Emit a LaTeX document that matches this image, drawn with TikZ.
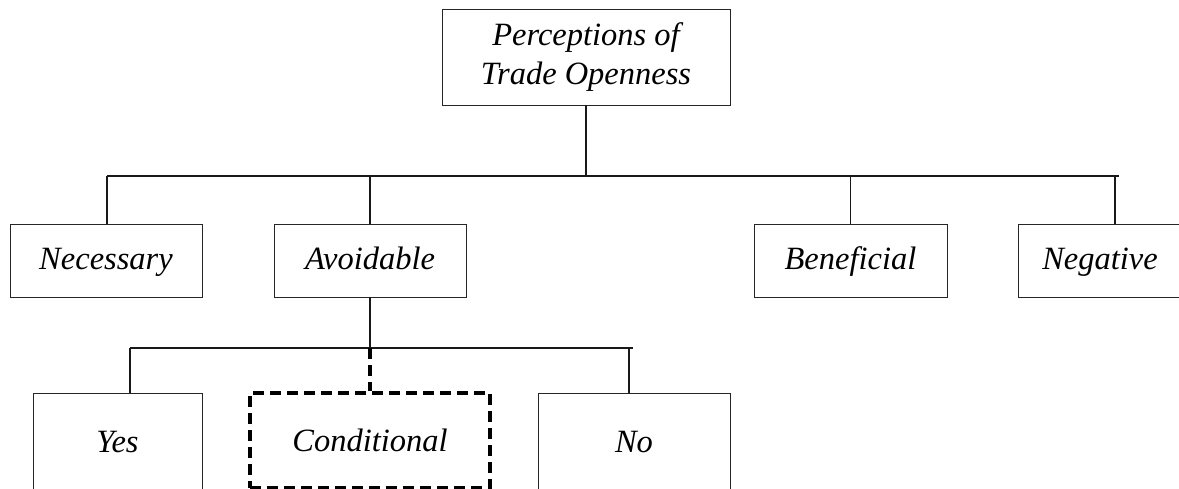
\documentclass[tikz,border=0pt]{standalone}
\usepackage{fontspec}
\setmainfont{Liberation Serif}
\begin{document}
\begin{tikzpicture}[x=1pt,y=1pt,
  topbox/.style={draw=black!85, line width=0.9pt, inner sep=0pt, align=center,
    font=\fontsize{32.5}{39}\selectfont\itshape},
  box/.style={topbox, text height=24pt, text depth=5pt},
  lowbox/.style={topbox, text height=25pt, text depth=3pt},
  dbox/.style={lowbox, draw=black, line width=3.6pt, dash pattern=on 11pt off 6pt},
  link/.style={draw=black!90, line width=1.1pt},
  dlink/.style={draw=black, line width=3.6pt, dash pattern=on 11pt off 6pt}]
\useasboundingbox (0,0) rectangle (1179,-489);
% nodes
\node[topbox, minimum width=288pt, minimum height=96pt] (top) at (586,-57) {Perceptions of\\Trade Openness};
\node[box, minimum width=192pt, minimum height=73pt] (nec) at (106,-260.5) {Necessary};
\node[box, minimum width=192pt, minimum height=73pt] (avo) at (370,-260.5) {Avoidable};
\node[box, minimum width=193pt, minimum height=73pt] (ben) at (850.5,-260.5) {Beneficial};
\node[box, minimum width=164pt, minimum height=73pt] (neg) at (1100,-260.5) {Negative};
\node[lowbox, minimum width=169pt, minimum height=96pt] (yes) at (117.5,-441) {Yes};
\node[dbox, minimum width=240pt, minimum height=95pt] (con) at (370,-440.5) {Conditional};
\node[lowbox, minimum width=192pt, minimum height=96pt] (no) at (634,-441) {No};
% bus coordinates
\coordinate (b1l) at (107,-176);
\coordinate (b1r) at (1119,-176);
\coordinate (b2l) at (130,-348);
\coordinate (b2r) at (633,-348);
\coordinate (sneg) at (1115,-176);
\coordinate (sno) at (629,-348);
% connectors level 1
\draw[link] (top.south) -- (top.south |- b1l);
\draw[link] (b1l) -- (b1r);
\draw[link] (b1l) -- (b1l |- nec.north);
\draw[link] (avo.north |- b1l) -- (avo.north);
\draw[link] (ben.north |- b1l) -- (ben.north);
\draw[link] (sneg) -- (sneg |- neg.north);
% connectors level 2
\draw[link] (avo.south) -- (avo.south |- b2l);
\draw[link] (b2l) -- (b2r);
\draw[link] (b2l) -- (b2l |- yes.north);
\draw[dlink] (con.north |- b2l) -- (con.north);
\draw[link] (sno) -- (sno |- no.north);
\end{tikzpicture}
\end{document}
